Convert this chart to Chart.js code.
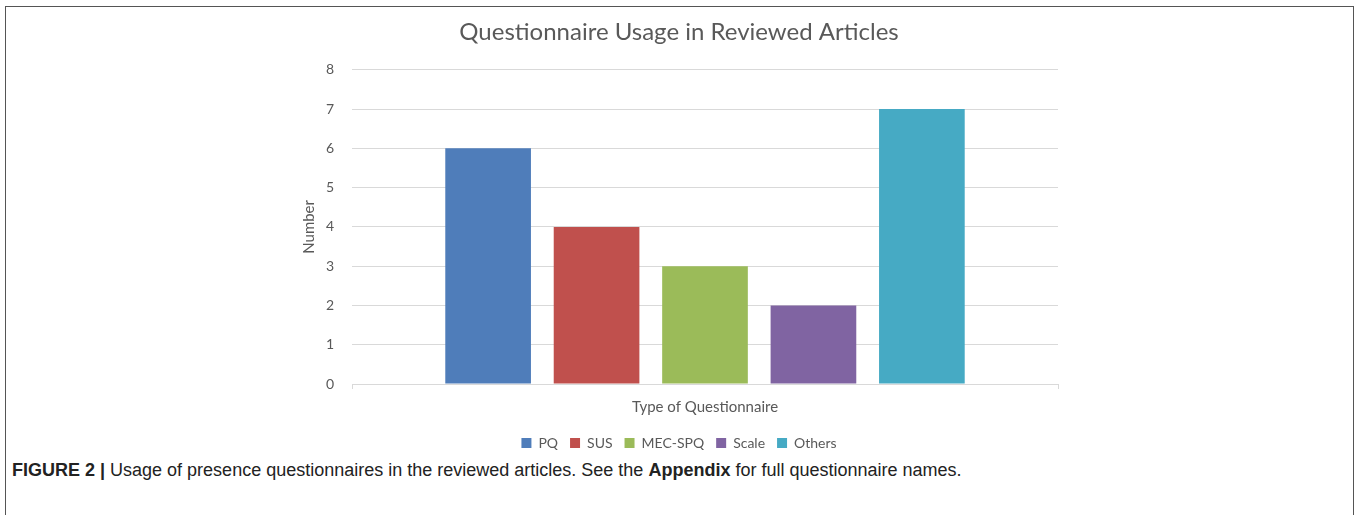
<!DOCTYPE html>
<html>
<head>
<meta charset="utf-8">
<script src="https://cdn.jsdelivr.net/npm/chart.js@4/dist/chart.umd.min.js"></script>
<style>
  body { margin: 0; background: #fff; }
  #frame { position: absolute; left: 5px; top: 6px; width: 1349px; height: 520px; border: 1.5px solid #555; box-sizing: border-box; }
  #wrap { position: absolute; left: 0; top: 0; width: 1358px; height: 460px; }
  #caption { position: absolute; left: 12px; top: 460px; font-family: "Liberation Sans", Arial, sans-serif; font-size: 18px; color: #222; white-space: nowrap; }
</style>
</head>
<body>
<div id="frame"></div>
<div id="wrap"><canvas id="chart"></canvas></div>
<div id="caption"><b>FIGURE 2 |</b> Usage of presence questionnaires in the reviewed articles. See the <b>Appendix</b> for full questionnaire names.</div>
<script>
var categories = ['PQ', 'SUS', 'MEC-SPQ', 'Scale', 'Others'];
var counts = [6, 4, 3, 2, 7];
var barColors = ['#4f7dba', '#c0504d', '#9bbb59', '#8064a2', '#46aac4'];
var yTicks = [0, 1, 2, 3, 4, 5, 6, 7, 8];

var grey = '#595959';
var font = 'Lato, "Open Sans", sans-serif';

var datasets = [];
for (var i = 0; i < categories.length; i++) {
    datasets.push({
        label: categories[i],
        data: [counts[i]],
        backgroundColor: barColors[i],
        categoryPercentage: 0.768,
        barPercentage: 0.79
    });
}

var ctx = document.getElementById('chart').getContext('2d');
new Chart(ctx, {
    type: 'bar',
    data: { labels: [''], datasets: datasets },
    options: {
        responsive: true,
        maintainAspectRatio: false,
        animation: false,
        layout: { padding: { left: 300, right: 300, top: 12, bottom: 0 } },
        plugins: {
            tooltip: { enabled: false },
            title: {
                display: true,
                text: 'Questionnaire Usage in Reviewed Articles',
                color: grey,
                font: { family: font, size: 24, weight: 'normal' },
                padding: { top: 6, bottom: 23 }
            },
            legend: {
                position: 'bottom',
                labels: {
                    color: grey,
                    font: { family: font, size: 14 },
                    boxWidth: 10,
                    boxHeight: 10,
                    padding: 12
                }
            }
        },
        scales: {
            x: {
                grid: { display: true, drawOnChartArea: false, tickLength: 5, color: '#d9d9d9', offset: true },
                border: { color: '#d9d9d9' },
                ticks: { display: false },
                title: {
                    display: true,
                    text: 'Type of Questionnaire',
                    color: grey,
                    font: { family: font, size: 15 },
                    padding: { top: 9, bottom: 8 }
                }
            },
            y: {
                min: 0,
                max: yTicks[yTicks.length - 1],
                afterBuildTicks: function (scale) {
                    scale.ticks = yTicks.map(function (v) { return { value: v }; });
                },
                afterFit: function (scale) { scale.width = 52; },
                grid: { color: '#d9d9d9', drawTicks: false },
                border: { display: false },
                ticks: { color: grey, font: { family: font, size: 14 }, padding: 18 },
                title: {
                    display: true,
                    text: 'Number',
                    color: grey,
                    font: { family: font, size: 15 },
                    padding: { top: 0, bottom: 0 }
                }
            }
        }
    }
});
</script>
</body>
</html>
